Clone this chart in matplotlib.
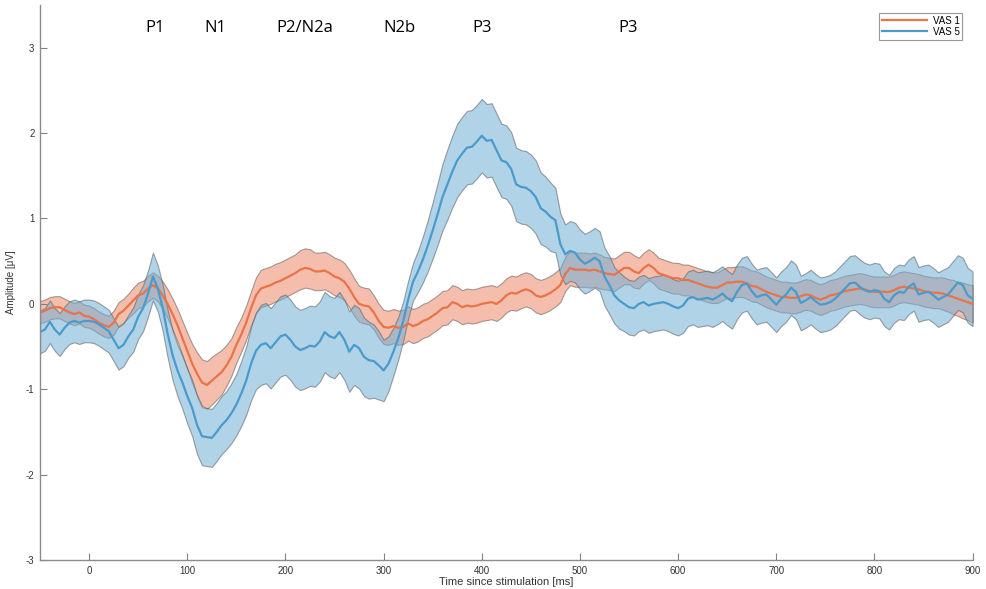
import numpy as np
import matplotlib
matplotlib.use('Agg')
import matplotlib.pyplot as plt

plt.rcParams['font.family'] = ['Liberation Sans', 'DejaVu Sans']
plt.rcParams['axes.unicode_minus'] = False

# time axis (ms), 5 ms steps
time_ms = np.arange(-50, 901, 5)

vas1_mean = [
    -0.10, -0.08, -0.05, -0.04, -0.04, -0.07, -0.10, -0.12, -0.10, -0.14,
    -0.15, -0.18, -0.22, -0.25, -0.27, -0.22, -0.12, -0.08, -0.02, 0.04,
    0.10, 0.12, 0.18, 0.22, 0.18, 0.10, 0.00, -0.12, -0.25, -0.40,
    -0.55, -0.70, -0.82, -0.92, -0.95, -0.90, -0.85, -0.80, -0.72, -0.62,
    -0.48, -0.36, -0.22, -0.05, 0.10, 0.18, 0.20, 0.22, 0.25, 0.27,
    0.30, 0.33, 0.36, 0.40, 0.42, 0.41, 0.38, 0.38, 0.39, 0.36,
    0.32, 0.30, 0.26, 0.18, 0.08, 0.00, -0.02, -0.03, -0.10, -0.20,
    -0.27, -0.28, -0.26, -0.28, -0.27, -0.23, -0.26, -0.24, -0.20, -0.18,
    -0.14, -0.10, -0.05, -0.04, 0.02, 0.00, -0.04, -0.02, -0.03, -0.02,
    0.00, 0.01, 0.02, 0.00, 0.04, 0.10, 0.13, 0.12, 0.15, 0.17,
    0.15, 0.10, 0.08, 0.10, 0.13, 0.17, 0.22, 0.35, 0.42, 0.40,
    0.40, 0.40, 0.39, 0.40, 0.38, 0.36, 0.35, 0.34, 0.38, 0.42,
    0.42, 0.38, 0.36, 0.42, 0.46, 0.42, 0.36, 0.34, 0.32, 0.30,
    0.30, 0.28, 0.28, 0.26, 0.24, 0.22, 0.20, 0.19, 0.19, 0.22,
    0.25, 0.25, 0.26, 0.26, 0.24, 0.21, 0.20, 0.17, 0.14, 0.12,
    0.10, 0.08, 0.08, 0.07, 0.07, 0.09, 0.11, 0.10, 0.07, 0.05,
    0.07, 0.10, 0.11, 0.13, 0.15, 0.16, 0.17, 0.18, 0.17, 0.15,
    0.14, 0.14, 0.14, 0.14, 0.16, 0.19, 0.20, 0.19, 0.18, 0.17,
    0.15, 0.14, 0.13, 0.13, 0.12, 0.10, 0.08, 0.06, 0.04, 0.02,
    0.00,
]

vas1_sem = [
    0.13, 0.13, 0.13, 0.13, 0.13, 0.13, 0.13, 0.13, 0.13, 0.13,
    0.13, 0.13, 0.13, 0.13, 0.13, 0.14, 0.14, 0.14, 0.14, 0.15,
    0.15, 0.15, 0.15, 0.15, 0.15, 0.16, 0.17, 0.18, 0.19, 0.20,
    0.21, 0.23, 0.25, 0.27, 0.28, 0.28, 0.27, 0.26, 0.24, 0.22,
    0.21, 0.20, 0.20, 0.20, 0.21, 0.22, 0.22, 0.22, 0.22, 0.22,
    0.22, 0.22, 0.22, 0.23, 0.23, 0.23, 0.22, 0.22, 0.22, 0.22,
    0.22, 0.22, 0.22, 0.22, 0.22, 0.21, 0.21, 0.21, 0.20, 0.20,
    0.20, 0.20, 0.20, 0.20, 0.20, 0.20, 0.20, 0.20, 0.20, 0.20,
    0.20, 0.20, 0.20, 0.20, 0.20, 0.20, 0.20, 0.20, 0.20, 0.20,
    0.20, 0.20, 0.20, 0.20, 0.20, 0.20, 0.20, 0.20, 0.20, 0.20,
    0.20, 0.20, 0.20, 0.20, 0.20, 0.20, 0.20, 0.20, 0.20, 0.20,
    0.20, 0.20, 0.20, 0.20, 0.20, 0.19, 0.19, 0.19, 0.19, 0.19,
    0.19, 0.19, 0.18, 0.18, 0.18, 0.18, 0.18, 0.18, 0.18, 0.18,
    0.18, 0.18, 0.18, 0.18, 0.18, 0.18, 0.18, 0.18, 0.18, 0.18,
    0.18, 0.18, 0.18, 0.18, 0.18, 0.18, 0.18, 0.18, 0.18, 0.18,
    0.18, 0.18, 0.18, 0.18, 0.18, 0.18, 0.18, 0.18, 0.18, 0.18,
    0.18, 0.18, 0.18, 0.18, 0.18, 0.18, 0.18, 0.18, 0.18, 0.18,
    0.18, 0.18, 0.18, 0.18, 0.18, 0.18, 0.18, 0.18, 0.18, 0.18,
    0.18, 0.18, 0.18, 0.18, 0.19, 0.19, 0.20, 0.20, 0.21, 0.21,
    0.22,
]

vas5_mean = [
    -0.33, -0.30, -0.21, -0.30, -0.36, -0.28, -0.22, -0.20, -0.22, -0.20,
    -0.20, -0.21, -0.24, -0.28, -0.32, -0.42, -0.52, -0.48, -0.38, -0.30,
    -0.15, -0.05, 0.12, 0.32, 0.18, -0.05, -0.35, -0.60, -0.78, -0.92,
    -1.08, -1.22, -1.42, -1.55, -1.56, -1.57, -1.50, -1.42, -1.36, -1.28,
    -1.18, -1.05, -0.90, -0.70, -0.55, -0.48, -0.46, -0.52, -0.45, -0.38,
    -0.36, -0.42, -0.50, -0.54, -0.52, -0.49, -0.50, -0.44, -0.33, -0.38,
    -0.40, -0.33, -0.42, -0.56, -0.48, -0.52, -0.62, -0.66, -0.67, -0.72,
    -0.78, -0.70, -0.56, -0.40, -0.20, 0.05, 0.26, 0.38, 0.52, 0.68,
    0.86, 1.05, 1.25, 1.40, 1.55, 1.68, 1.76, 1.83, 1.84, 1.90,
    1.97, 1.91, 1.92, 1.80, 1.68, 1.66, 1.58, 1.40, 1.37, 1.36,
    1.32, 1.25, 1.12, 1.08, 1.02, 0.98, 0.70, 0.58, 0.62, 0.60,
    0.52, 0.47, 0.50, 0.54, 0.50, 0.32, 0.22, 0.10, 0.04, 0.00,
    -0.04, -0.05, 0.00, 0.02, -0.02, 0.00, 0.01, 0.02, 0.00, -0.03,
    -0.05, -0.02, 0.06, 0.08, 0.05, 0.06, 0.07, 0.05, 0.08, 0.12,
    0.07, 0.03, 0.14, 0.22, 0.24, 0.15, 0.08, 0.10, 0.11, 0.05,
    -0.01, 0.06, 0.11, 0.19, 0.14, 0.01, 0.04, 0.08, 0.03, -0.01,
    0.00, 0.02, 0.06, 0.12, 0.18, 0.24, 0.25, 0.20, 0.16, 0.14,
    0.16, 0.15, 0.06, 0.02, 0.10, 0.14, 0.13, 0.20, 0.24, 0.11,
    0.13, 0.14, 0.10, 0.05, 0.08, 0.11, 0.18, 0.25, 0.22, 0.10,
    0.06,
]

vas5_sem = [
    0.25, 0.25, 0.25, 0.25, 0.25, 0.25, 0.25, 0.25, 0.25, 0.25,
    0.25, 0.25, 0.25, 0.25, 0.25, 0.25, 0.25, 0.25, 0.25, 0.26,
    0.26, 0.27, 0.27, 0.28, 0.27, 0.27, 0.28, 0.29, 0.30, 0.31,
    0.32, 0.33, 0.34, 0.34, 0.34, 0.34, 0.34, 0.34, 0.34, 0.35,
    0.36, 0.38, 0.40, 0.43, 0.45, 0.47, 0.47, 0.47, 0.47, 0.47,
    0.47, 0.47, 0.47, 0.47, 0.47, 0.47, 0.47, 0.47, 0.47, 0.47,
    0.47, 0.47, 0.47, 0.47, 0.47, 0.47, 0.46, 0.45, 0.43, 0.40,
    0.36, 0.32, 0.28, 0.25, 0.23, 0.22, 0.22, 0.24, 0.27, 0.30,
    0.33, 0.36, 0.39, 0.41, 0.42, 0.43, 0.43, 0.43, 0.43, 0.43,
    0.43, 0.43, 0.43, 0.43, 0.43, 0.43, 0.43, 0.43, 0.43, 0.43,
    0.43, 0.43, 0.42, 0.41, 0.40, 0.38, 0.36, 0.35, 0.35, 0.35,
    0.35, 0.35, 0.35, 0.35, 0.35, 0.34, 0.34, 0.33, 0.33, 0.32,
    0.32, 0.32, 0.32, 0.32, 0.32, 0.32, 0.32, 0.32, 0.32, 0.32,
    0.32, 0.32, 0.32, 0.32, 0.32, 0.32, 0.32, 0.32, 0.32, 0.32,
    0.32, 0.32, 0.32, 0.32, 0.32, 0.32, 0.32, 0.32, 0.32, 0.32,
    0.32, 0.32, 0.32, 0.32, 0.32, 0.32, 0.32, 0.32, 0.32, 0.32,
    0.32, 0.32, 0.32, 0.32, 0.32, 0.32, 0.32, 0.32, 0.32, 0.32,
    0.32, 0.32, 0.32, 0.32, 0.32, 0.32, 0.32, 0.32, 0.32, 0.32,
    0.32, 0.32, 0.32, 0.32, 0.32, 0.32, 0.32, 0.32, 0.32, 0.32,
    0.32,
]

components = ['P1', 'N1', 'P2/N2a', 'N2b', 'P3', 'P3']
component_ms = [67, 129, 220, 316, 400, 549]

x_ticks = list(range(0, 901, 100))
y_ticks = [-3, -2, -1, 0, 1, 2, 3]

orange_line = '#E8744A'
orange_fill = '#EE8A68'
blue_line = '#4A9BCB'
blue_fill = '#6FAFD6'


def plot_band(ax, t, mean, sem, line_col, fill_col, label):
    mean = np.asarray(mean)
    sem = np.asarray(sem)
    ax.fill_between(t, mean - sem, mean + sem, facecolor=fill_col, alpha=0.55,
                    edgecolor=(0.35, 0.35, 0.35, 0.6), linewidth=0.8)
    h, = ax.plot(t, mean, color=line_col, lw=1.6, label=label)
    return h


fig = plt.figure(figsize=(9.86, 5.89), dpi=100)
ax = fig.add_axes([0.0406, 0.0492, 0.9458, 0.9423])

h1 = plot_band(ax, time_ms, vas1_mean, vas1_sem, orange_line, orange_fill, 'VAS 1')
h2 = plot_band(ax, time_ms, vas5_mean, vas5_sem, blue_line, blue_fill, 'VAS 5')

ax.set_xlim(-50, 900)
ax.set_ylim(-3, 3.5)
ax.set_xticks(x_ticks)
ax.set_yticks(y_ticks)
ax.tick_params(direction='in', length=5, width=0.8, color='0.5',
               labelsize=7, labelcolor='0.2', pad=4)
for s in ['top', 'right']:
    ax.spines[s].set_visible(False)
for s in ['left', 'bottom']:
    ax.spines[s].set_color('0.55')
    ax.spines[s].set_linewidth(1.0)

ax.set_xlabel('Time since stimulation [ms]', fontsize=8, color='0.2', labelpad=1)
ax.set_ylabel('Amplitude [\u03bcV]', fontsize=7, color='0.2', labelpad=7)

for name, t in zip(components, component_ms):
    ax.text(t, 3.23, name, ha='center', va='center', fontsize=12,
            family='Open Sans', color='black')

leg = ax.legend(handles=[h1, h2], loc='upper right', bbox_to_anchor=(0.989, 0.986),
                fontsize=7, frameon=True, fancybox=False, handlelength=4.6,
                borderaxespad=0, borderpad=0.3, labelspacing=0.1, handletextpad=0.6)
leg.get_frame().set_edgecolor('0.5')
leg.get_frame().set_linewidth(0.8)

plt.savefig('out.png', dpi=100)
